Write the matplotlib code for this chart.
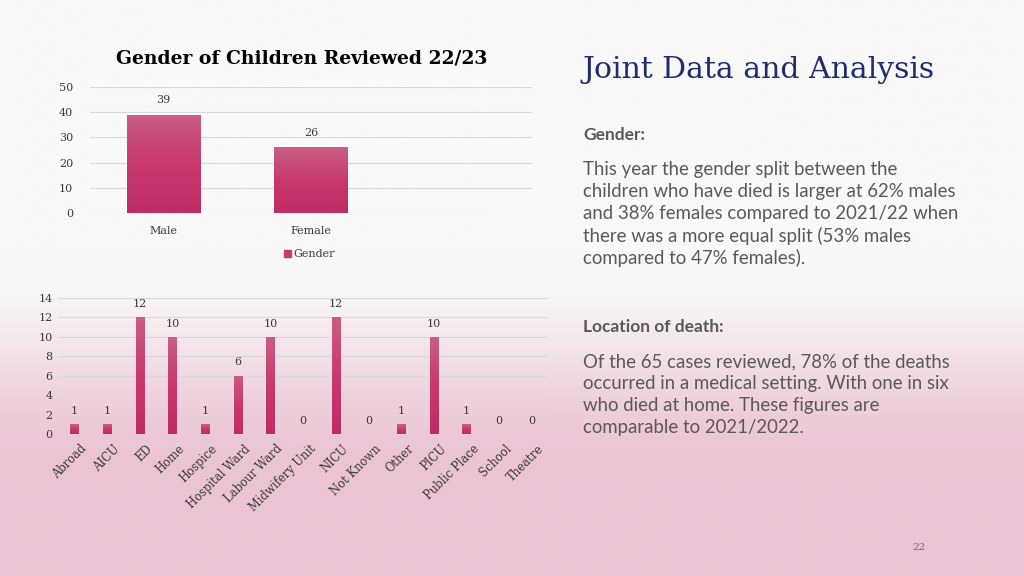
import numpy as np
import matplotlib.pyplot as plt
import matplotlib.transforms as mtransforms
from matplotlib.patches import Patch
from matplotlib.colors import LinearSegmentedColormap

# data
gender_cats = ["Male", "Female", ""]
gender_vals = [39, 26, None]

loc_cats = ["Abroad", "AICU", "ED", "Home", "Hospice", "Hospital Ward",
            "Labour Ward", "Midwifery Unit", "NICU", "Not Known", "Other",
            "PICU", "Public Place", "School", "Theatre"]
loc_vals = [1, 1, 12, 10, 1, 6, 10, 0, 12, 0, 1, 10, 1, 0, 0]

W, H = 1024, 576
serif = "DejaVu Serif"
sans = "Lato"
txt_grey = "#595959"
axis_grey = "#3a3a3a"
grid_c = "#d9d9d9"

fig = plt.figure(figsize=(W / 100, H / 100), dpi=100)

# background, white fading to pink
bg = fig.add_axes([0, 0, 1, 1], zorder=-10)
ys = np.linspace(0, 1, 300)
top = np.array([249, 249, 249]) / 255.
pink = np.array([235, 196, 212]) / 255.
t = np.clip((ys - 0.44) / 0.38, 0, 1)
t = t * t * (3 - 2 * t)
cols = top[None, :] * (1 - t[:, None]) + pink[None, :] * t[:, None]
bg.imshow(cols[:, None, :], aspect="auto", extent=[0, 1, 1, 0])
bg.set_xlim(0, 1)
bg.set_ylim(1, 0)
bg.axis("off")

bar_grad = np.linspace(0, 1, 100)[:, None]
bar_cmap = LinearSegmentedColormap.from_list("bar", ["#bf2c65", "#c8396f", "#c95e85"])


def grad_bars(ax, bars):
    for b in bars:
        x0, y0 = b.get_x(), b.get_y()
        w, h = b.get_width(), b.get_height()
        if h <= 0:
            continue
        im = ax.imshow(bar_grad, cmap=bar_cmap, aspect="auto", origin="lower",
                       extent=[x0, x0 + w, y0, y0 + h], zorder=3)
        im.set_clip_path(b)


def fx(px):
    return px / W


def fy(py):
    return 1 - py / H


# top chart
ax1 = fig.add_axes([fx(90), fy(213), fx(532) - fx(90), fy(87) - fy(213)])
x1 = np.arange(len(gender_cats))
v1 = [v if v is not None else 0 for v in gender_vals]
bars1 = ax1.bar(x1, v1, width=0.5, color="#c83a70", zorder=2)
grad_bars(ax1, bars1)
for xi, v in zip(x1, gender_vals):
    if v is not None:
        ax1.annotate(str(v), (xi, v), xytext=(0, 7), textcoords="offset points",
                     ha="center", va="bottom", fontsize=8, family=serif, color=axis_grey)
ax1.set_xlim(-0.5, 2.5)
ax1.set_ylim(0, 50)
ax1.set_yticks(range(0, 51, 10))
ax1.set_xticks(x1[:2])
ax1.set_xticklabels(gender_cats[:2])
ax1.grid(axis="y", color=grid_c, linewidth=0.8, zorder=0)
ax1.set_axisbelow(True)
for s in ax1.spines.values():
    s.set_visible(False)
ax1.tick_params(length=0, labelsize=8, colors=axis_grey, pad=9)
ax1.tick_params(axis="y", pad=12)
for lab in ax1.get_xticklabels() + ax1.get_yticklabels():
    lab.set_family(serif)
ax1.patch.set_alpha(0)
ax1.set_title("Gender of Children Reviewed 22/23", family=serif, fontweight="bold",
              fontsize=13.5, color="black", pad=17, x=0.48)
ax1.legend(handles=[Patch(color="#c83a70", label="Gender")], loc="center",
           bbox_to_anchor=(0.497, -0.325), frameon=False, handlelength=0.6,
           handleheight=0.6, handletextpad=0.2, prop={"family": serif, "size": 8},
           labelcolor=axis_grey)

# bottom chart
ax2 = fig.add_axes([fx(58), fy(434), fx(548) - fx(58), fy(298) - fy(434)])
x2 = np.arange(len(loc_cats))
bars2 = ax2.bar(x2, loc_vals, width=0.25, color="#c83a70", zorder=2)
grad_bars(ax2, bars2)
for xi, v in zip(x2, loc_vals):
    ax2.annotate(str(v), (xi, v), xytext=(0, 6), textcoords="offset points",
                 ha="center", va="bottom", fontsize=8, family=serif, color=axis_grey)
ax2.set_xlim(-0.5, len(loc_cats) - 0.5)
ax2.set_ylim(0, 14)
ax2.set_yticks(range(0, 15, 2))
ax2.set_xticks(x2)
ax2.set_xticklabels(loc_cats, rotation=45, ha="right", rotation_mode="anchor")
ax2.grid(axis="y", color=grid_c, linewidth=0.8, zorder=0)
ax2.set_axisbelow(True)
for s in ax2.spines.values():
    s.set_visible(False)
ax2.tick_params(length=0, labelsize=8.3, colors=axis_grey, pad=6)
ax2.tick_params(axis="y", pad=4, labelsize=8)
shift = mtransforms.ScaledTranslation(6 / 100, 0, fig.dpi_scale_trans)
for lab in ax2.get_xticklabels():
    lab.set_transform(lab.get_transform() + shift)
for lab in ax2.get_xticklabels() + ax2.get_yticklabels():
    lab.set_family(serif)
ax2.patch.set_alpha(0)

# right-hand text
fig.text(fx(583), fy(70), "Joint Data and Analysis", family=serif, fontsize=21.5,
         color="#1f2d6e", va="center", ha="left")
fig.text(fx(583), fy(135), "Gender:", family=sans, fontweight="bold", fontsize=12.5,
         color=txt_grey, va="center")
gender_txt = ["This year the gender split between the",
              "children who have died is larger at 62% males",
              "and 38% females compared to 2021/22 when",
              "there was a more equal split (53% males",
              "compared to 47% females)."]
for i, line in enumerate(gender_txt):
    fig.text(fx(583), fy(170 + 22 * i), line, family=sans, fontsize=13.4,
             color=txt_grey, va="center")
fig.text(fx(583), fy(327), "Location of death:", family=sans, fontweight="bold",
         fontsize=12.5, color=txt_grey, va="center")
loc_txt = ["Of the 65 cases reviewed, 78% of the deaths",
           "occurred in a medical setting. With one in six",
           "who died at home. These figures are",
           "comparable to 2021/2022."]
for i, line in enumerate(loc_txt):
    fig.text(fx(583), fy(362 + 22 * i), line, family=sans, fontsize=13.4,
             color=txt_grey, va="center")
fig.text(fx(919), fy(548), "22", family=serif, fontsize=7.5, color="#707070",
         ha="center", va="center")

fig.savefig("out.png", dpi=100)
